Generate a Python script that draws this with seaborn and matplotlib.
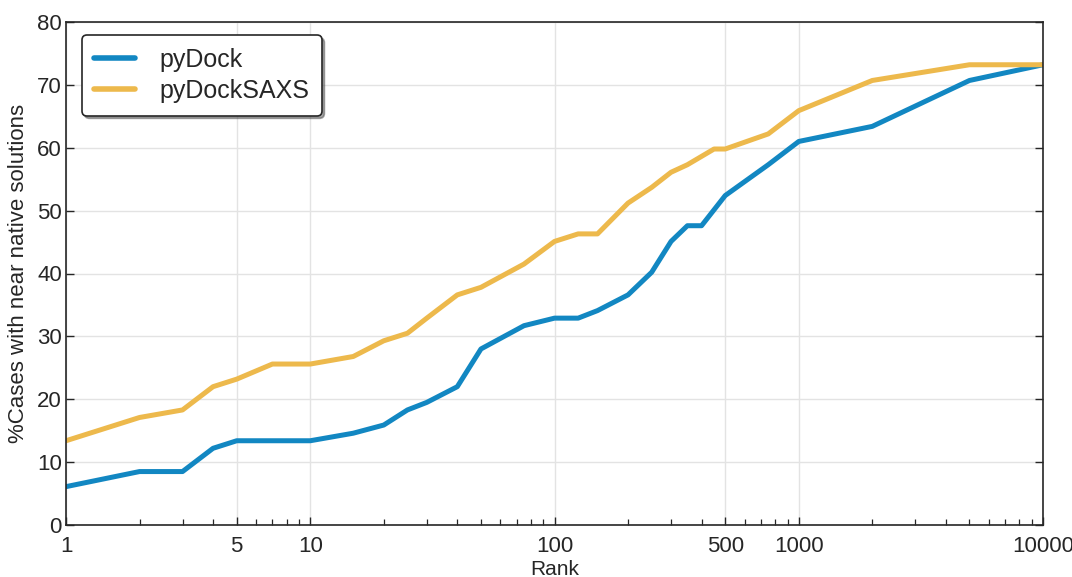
import numpy as np
import pandas as pd
import matplotlib
matplotlib.use("Agg")
import matplotlib.pyplot as plt
from matplotlib.ticker import FixedLocator, LogLocator, NullFormatter, FixedFormatter
import seaborn as sns

# ---- data ----
rank_pydock = [1, 2, 3, 4, 5, 10, 15, 20, 25, 30, 40, 50, 75, 100, 125, 150,
               200, 250, 300, 350, 400, 500, 750, 1000, 2000, 5000, 10000]
pct_pydock = [6.1, 8.5, 8.5, 12.2, 13.4, 13.4, 14.6, 15.9, 18.3, 19.5, 22.0,
              28.0, 31.7, 32.9, 32.9, 34.1, 36.6, 40.2, 45.1, 47.6, 47.6,
              52.4, 57.3, 61.0, 63.4, 70.7, 73.2]

rank_saxs = [1, 2, 3, 4, 5, 7, 10, 15, 20, 25, 30, 40, 50, 75, 100, 125, 150,
             200, 250, 300, 350, 450, 500, 750, 1000, 2000, 5000, 10000]
pct_saxs = [13.4, 17.1, 18.3, 22.0, 23.2, 25.6, 25.6, 26.8, 29.3, 30.5, 32.9,
            36.6, 37.8, 41.5, 45.1, 46.3, 46.3, 51.2, 53.7, 56.1, 57.3, 59.8,
            59.8, 62.2, 65.9, 70.7, 73.2, 73.2]

series_names = ["pyDock", "pyDockSAXS"]
series_colors = ["#1287C2", "#EDB94C"]

xtick_vals = [1, 5, 10, 100, 500, 1000, 10000]
xtick_labels = ["1", "5", "10", "100", "500", "1000", "10000"]
ytick_vals = [0, 10, 20, 30, 40, 50, 60, 70, 80]

df = pd.concat([
    pd.DataFrame({"Rank": rank_pydock, "pct": pct_pydock, "method": series_names[0]}),
    pd.DataFrame({"Rank": rank_saxs, "pct": pct_saxs, "method": series_names[1]}),
], ignore_index=True)

sns.set_style("white")
plt.rcParams["font.family"] = ["Liberation Sans", "DejaVu Sans"]

fig = plt.figure(figsize=(10.72, 5.77), dpi=100)
ax = fig.add_axes([66 / 1072, 1 - 525 / 577, (1043 - 66) / 1072, (525 - 22) / 577])

sns.lineplot(data=df, x="Rank", y="pct", hue="method",
             palette=dict(zip(series_names, series_colors)),
             linewidth=3.6, ax=ax, legend=True, sort=False)

ax.set_xscale("log")
ax.set_xlim(1, 10000)
ax.set_ylim(0, 80)

ax.xaxis.set_major_locator(FixedLocator(xtick_vals))
ax.xaxis.set_major_formatter(FixedFormatter(xtick_labels))
ax.xaxis.set_minor_locator(LogLocator(base=10, subs=np.arange(2, 10), numticks=20))
ax.xaxis.set_minor_formatter(NullFormatter())
ax.set_yticks(ytick_vals)

ax.grid(True, which="major", color="#E3E3E3", linewidth=1.0)
ax.set_axisbelow(True)

for side in ["left", "bottom", "right", "top"]:
    ax.spines[side].set_visible(True)
    ax.spines[side].set_color("#262626")
    ax.spines[side].set_linewidth(1.2)

ax.tick_params(axis="both", which="major", direction="in", length=6, width=1,
               color="#262626", labelcolor="#262626", labelsize=16)
ax.tick_params(axis="y", which="major", right=True, left=True, pad=3)
ax.tick_params(axis="x", which="major", top=False, bottom=True, pad=8)
ax.tick_params(axis="x", which="minor", direction="in", length=4, width=0.9,
               color="#262626", top=False, bottom=True)

ax.set_xlabel("Rank", fontsize=15, color="#262626", labelpad=2)
ax.set_ylabel("%Cases with near native solutions", fontsize=16, color="#262626", labelpad=6)

leg = ax.legend(loc="upper left", bbox_to_anchor=(0.016, 0.974), borderaxespad=0,
                frameon=True, fancybox=True, shadow=True, fontsize=18,
                handlelength=1.65, handletextpad=0.95, borderpad=0.5,
                labelspacing=0.3, title=None)
leg.get_frame().set_edgecolor("#262626")
leg.get_frame().set_linewidth(1.2)
for line in leg.get_lines():
    line.set_linewidth(4)

fig.savefig("out.png", dpi=100)
